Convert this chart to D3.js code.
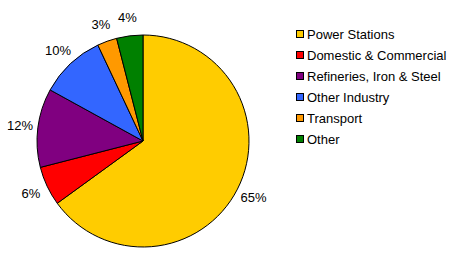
<!DOCTYPE html>
<html>
<head>
<meta charset="utf-8">
<script src="https://cdn.jsdelivr.net/npm/d3@7"></script>
<style>
  body { margin: 0; background: #fff; }
  text { font-family: Arial, "Liberation Sans", sans-serif; font-size: 13px; fill: #000; }
</style>
</head>
<body>
<div id="chart"></div>
<script>
const categories = ["Power Stations", "Domestic & Commercial", "Refineries, Iron & Steel", "Other Industry", "Transport", "Other"];
const values = [65, 6, 12, 10, 3, 4];
const colors = ["#FFCC00", "#FF0000", "#800080", "#3366FF", "#FF9900", "#008000"];

const width = 457, height = 259;
const cx = 143, cy = 141, radius = 106, labelRadius = 124;

const svg = d3.select("#chart").append("svg")
  .attr("width", width)
  .attr("height", height);

const data = categories.map((c, i) => ({ name: c, value: values[i], color: colors[i] }));
const total = d3.sum(values);

const pie = d3.pie().value(d => d.value).sort(null);
const arc = d3.arc().innerRadius(0).outerRadius(radius);
const labelArc = d3.arc().innerRadius(labelRadius).outerRadius(labelRadius);

const g = svg.append("g").attr("transform", `translate(${cx},${cy})`);

g.selectAll("path")
  .data(pie(data))
  .join("path")
  .attr("d", arc)
  .attr("fill", d => d.data.color)
  .attr("stroke", "#000")
  .attr("stroke-width", 1);

g.selectAll("text.pct")
  .data(pie(data))
  .join("text")
  .attr("class", "pct")
  .attr("transform", d => `translate(${labelArc.centroid(d)})`)
  .attr("text-anchor", "middle")
  .attr("dominant-baseline", "central")
  .text(d => Math.round(d.data.value / total * 100) + "%");

// legend
const legend = svg.append("g").attr("transform", "translate(296,34)");
const row = legend.selectAll("g")
  .data(data)
  .join("g")
  .attr("transform", (d, i) => `translate(0,${i * 21})`);

row.append("rect")
  .attr("x", 0.5).attr("y", -3.5)
  .attr("width", 7).attr("height", 7)
  .attr("fill", d => d.color)
  .attr("stroke", "#000");

row.append("text")
  .attr("x", 11)
  .attr("y", 0)
  .attr("dominant-baseline", "central")
  .text(d => d.name);
</script>
</body>
</html>
